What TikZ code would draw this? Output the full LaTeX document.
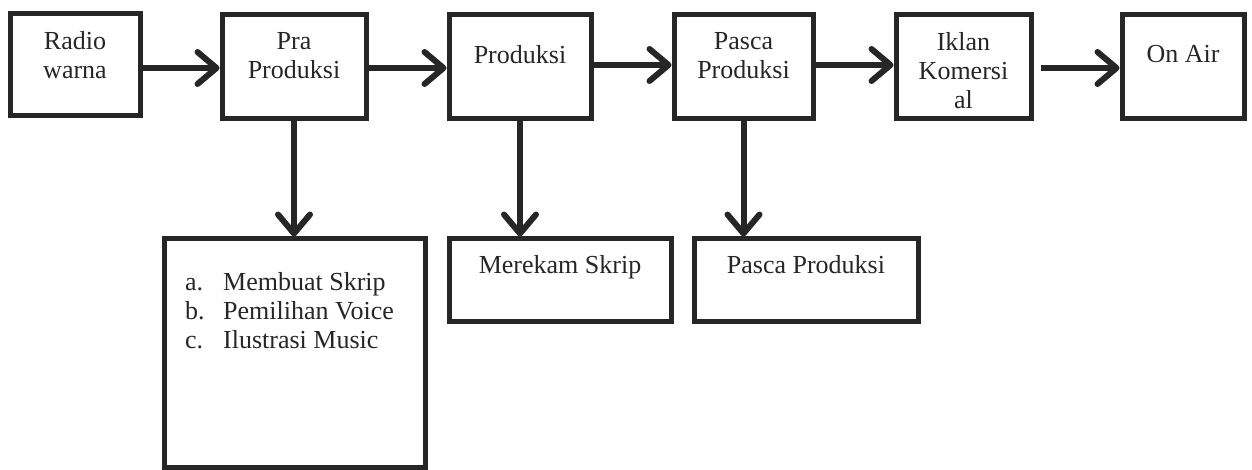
\documentclass[tikz,border=0pt]{standalone}
\usepackage{fontspec}
\setmainfont{Liberation Serif}
\usetikzlibrary{arrows.meta, positioning}

\begin{document}
\begin{tikzpicture}[
    x=1pt, y=-1pt,
    % Estilos
    box/.style={draw=black!85, line width=5pt, inner sep=0pt}, % Kotak tahap
    box text/.style={font=\fontsize{26pt}{29pt}\selectfont, text=black!85, align=center, inner sep=0pt, anchor=north},
    flow/.style={-{Straight Barb[length=19pt, width=32pt, line cap=round, line join=round]}, line width=6pt, draw=black!85} % Panah alur
]
    \useasboundingbox (0,0) rectangle (1252,470);

    % =========================================================================
    % 1. Tahap utama (baris atas)
    % =========================================================================
    \node[box, minimum width=130pt, minimum height=102pt] (radio) at (75,65) {};
    \node[box, minimum width=144pt, minimum height=104pt] (pra) at (294,67) {};
    \node[box, minimum width=142pt, minimum height=104pt] (produksi) at (520,67) {};
    \node[box, minimum width=139pt, minimum height=104pt] (pasca) at (743.5,67) {};
    \node[box, minimum width=135pt, minimum height=104pt] (iklan) at (963.5,67) {};
    \node[box, minimum width=122pt, minimum height=104pt] (onair) at (1183,67) {};

    % =========================================================================
    % 2. Rincian tahap (baris bawah)
    % =========================================================================
    \node[box, minimum width=261pt, minimum height=228pt] (skrip) at (294.5,353) {};
    \node[box, minimum width=222pt, minimum height=82pt] (merekam) at (560,280) {};
    \node[box, minimum width=224pt, minimum height=82pt] (pascab) at (806,280) {};

    % =========================================================================
    % 3. Teks
    % =========================================================================
    \node[box text, below=20pt of radio.north] (radio text) {Radio\\warna};
    \node[box text, below=20pt of pra.north] (pra text) {Pra\\Produksi};
    \node[box text, below=32.5pt of produksi.north] (produksi text) {Produksi};
    \node[box text, below=20pt of pasca.north] (pasca text) {Pasca\\Produksi};
    \node[box text, below=20pt of iklan.north] (iklan text) {Iklan\\Komersi\\al};
    \node[box text, below=32.5pt of onair.north] (onair text) {On Air};
    \node[box text, below=18.5pt of merekam.north] (merekam text) {Merekam Skrip};
    \node[box text, below=18.5pt of pascab.north] (pascab text) {Pasca Produksi};
    \node[box text, align=left, anchor=north west] (skrip text) at ([xshift=23.5pt, yshift=-35.5pt]skrip.north west)
        {\makebox[38pt][l]{a.}Membuat Skrip\\\makebox[38pt][l]{b.}Pemilihan Voice\\\makebox[38pt][l]{c.}Ilustrasi Music};

    % =========================================================================
    % 4. Alur
    % =========================================================================
    \draw[flow] ([yshift=-3pt]radio.east) -- ([yshift=-3pt]radio.east -| pra.west);
    \draw[flow] ([yshift=-1pt]pra.east) -- ([yshift=-1pt]pra.east -| produksi.west);
    \draw[flow] ([yshift=2pt]produksi.east) -- ([yshift=2pt]produksi.east -| pasca.west);
    \draw[flow] ([yshift=2pt]pasca.east) -- ([yshift=2pt]pasca.east -| iklan.west);
    \draw[flow, shorten <=7pt] ([yshift=-1pt]iklan.east) -- ([yshift=-1pt]iklan.east -| onair.west);

    \draw[flow] (pra.south) -- (pra.south |- skrip.north);
    \draw[flow] (produksi.south) -- (produksi.south |- merekam.north);
    \draw[flow] (pasca.south) -- (pasca.south |- pascab.north);

\end{tikzpicture}
\end{document}
